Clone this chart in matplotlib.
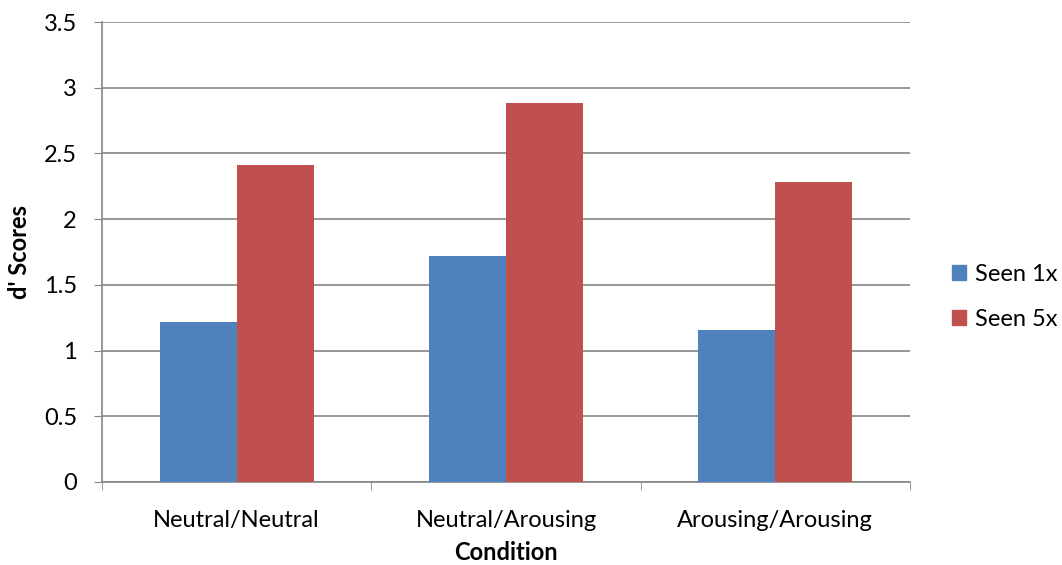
import numpy as np
import matplotlib.pyplot as plt
from matplotlib.patches import Patch

conditions = ['Neutral/Neutral', 'Neutral/Arousing', 'Arousing/Arousing']
seen_1x = [1.22, 1.72, 1.155]
seen_5x = [2.415, 2.88, 2.285]
series_names = ['Seen 1x', 'Seen 5x']
colors = ['#4F81BD', '#C0504D']
yticks = [0, 0.5, 1, 1.5, 2, 2.5, 3, 3.5]

plt.rcParams['font.family'] = ['Lato', 'DejaVu Sans']
fs = 17

fig = plt.figure(figsize=(10.62, 5.65), dpi=100)
ax = fig.add_axes([102 / 1062, 1 - 482 / 565, 808 / 1062, 460 / 565])

x = np.arange(len(conditions))
w = 0.286
ax.bar(x - w / 2, seen_1x, w, color=colors[0], zorder=3)
ax.bar(x + w / 2, seen_5x, w, color=colors[1], zorder=3)

ax.set_xlim(-0.5, len(conditions) - 0.5)
ax.set_ylim(0, 3.5)
ax.set_yticks(yticks)
ax.set_yticklabels([f'{t:g}' for t in yticks], fontsize=fs)
ax.set_xticks(x)
ax.set_xticklabels(conditions, fontsize=fs)
ax.tick_params(axis='x', length=0, pad=20)
ax.set_xticks(np.arange(-0.5, len(conditions)), minor=True)
ax.tick_params(axis='x', which='minor', length=6, color='#868686', direction='out')
ax.tick_params(axis='y', length=6, color='#868686', direction='out', pad=12)

ax.grid(axis='y', color='#868686', linewidth=1.2, zorder=0)
for side in ['top', 'right']:
    ax.spines[side].set_visible(False)
for side in ['left', 'bottom']:
    ax.spines[side].set_color('#868686')
    ax.spines[side].set_linewidth(1.2)

ax.set_xlabel('Condition', fontsize=fs, fontweight='bold', va='center')
ax.xaxis.set_label_coords(0.5, (482 - 553) / 460)
ax.set_ylabel("d' Scores", fontsize=fs, fontweight='bold', va='center')
ax.yaxis.set_label_coords((20 - 102) / 808, 0.5)

handles = [Patch(color=c, label=n) for c, n in zip(colors, series_names)]
fig.legend(handles=handles, loc='center left', bbox_to_anchor=(940 / 1062, 1 - 297 / 565),
           frameon=False, fontsize=fs, handlelength=0.6, handleheight=0.6,
           handletextpad=0.4, labelspacing=1.0, borderpad=0)

fig.savefig('out.png', dpi=100)
